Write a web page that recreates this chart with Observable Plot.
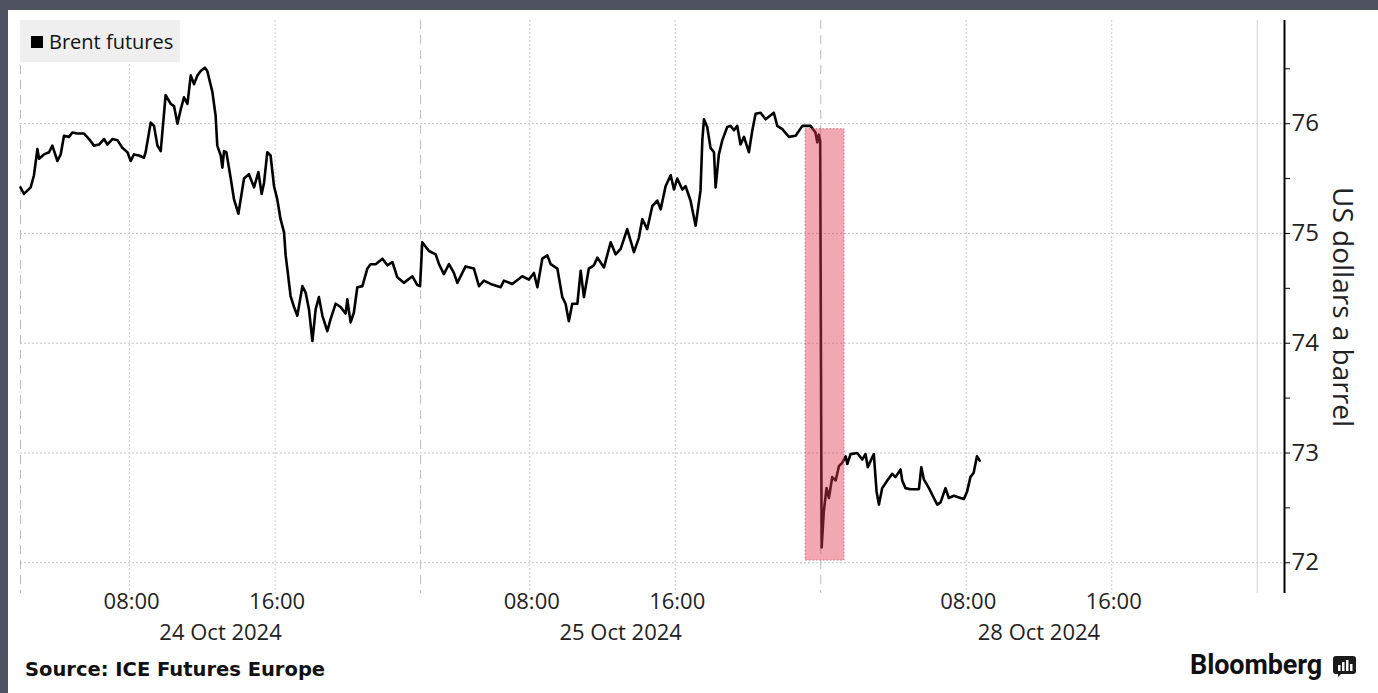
<!DOCTYPE html>
<html>
<head>
<meta charset="utf-8">
<script src="https://cdn.jsdelivr.net/npm/d3@7"></script>
<script src="https://cdn.jsdelivr.net/npm/@observablehq/plot@0.6"></script>
<style>
  html, body { margin: 0; padding: 0; }
  body { width: 1378px; height: 693px; background: #4f525f; position: relative; overflow: hidden; font-family: "Open Sans", sans-serif; }
  #card { position: absolute; left: 8px; top: 10px; right: 0; bottom: 0; background: #ffffff; }
  #chart { position: absolute; left: 0; top: 0; }
  #legend { position: absolute; left: 20px; top: 20px; width: 160px; height: 42px; background: #efefef; }
  #legend .sw { position: absolute; left: 11px; top: 16px; width: 12px; height: 12px; background: #000; }
  #legend .lb { position: absolute; left: 29px; top: 12px; font-size: 20px; line-height: 20px; color: #111; white-space: nowrap; }
  #source { position: absolute; left: 25px; top: 660px; font-family: "DejaVu Sans", sans-serif; font-weight: bold; font-size: 19.5px; line-height: 19px; color: #111; white-space: nowrap; }
  #brand { position: absolute; left: 1190px; top: 652px; font-family: Roboto, "Liberation Sans", sans-serif; font-weight: bold; font-size: 27px; line-height: 27px; color: #111; white-space: nowrap; letter-spacing: -0.1px; }
  #icon { position: absolute; left: 1333px; top: 656px; }
</style>
</head>
<body>
<div id="card"></div>
<div id="chart"></div>
<div id="legend"><div class="sw"></div><div class="lb">Brent futures</div></div>
<div id="source">Source: ICE Futures Europe</div>
<div id="brand">Bloomberg</div>
<svg id="icon" width="23" height="22" viewBox="0 0 23 22">
  <path d="M3 0 H20 Q23 0 23 3 V15 Q23 18 20 18 H8 L5 21 V18 H3 Q0 18 0 15 V3 Q0 0 3 0 Z" fill="#1a1a1a"/>
  <rect x="5" y="9" width="2.5" height="6" fill="#fff"/>
  <rect x="9" y="6" width="2.5" height="9" fill="#fff"/>
  <rect x="13" y="4" width="2.5" height="11" fill="#fff"/>
  <rect x="17" y="8" width="2.5" height="7" fill="#fff"/>
</svg>
<script>
// Trading-session hours since 24 Oct 2024 02:00 (non-trading time removed, as in the original axis)
const sessionHours = [
  0, 0.19, 0.56, 0.74, 0.93, 1.02, 1.29, 1.57, 1.75, 2.03, 2.21, 2.39, 2.67, 2.85, 3.13, 3.49, 3.77, 4.04, 4.32, 4.59,
  4.78, 5.05, 5.33, 5.60, 5.88, 6.06, 6.24, 6.51, 6.79, 6.88, 7.16, 7.34, 7.53, 7.71, 7.80, 7.98, 8.26, 8.44, 8.63, 8.81,
  8.99, 9.18, 9.36, 9.54, 9.73, 9.91, 10.14, 10.27, 10.55, 10.73, 10.82, 11.01, 11.10, 11.19, 11.32, 11.56, 11.74, 11.98, 12.29, 12.56,
  12.84, 13.08, 13.26, 13.39, 13.57, 13.75, 13.94, 14.12, 14.30, 14.49, 14.58, 14.67, 14.85, 15.04, 15.22, 15.50, 15.68, 15.86, 16.05, 16.23,
  16.41, 16.60, 16.87, 17.05, 17.33, 17.60, 17.88, 17.97, 18.15, 18.33, 18.52, 18.80, 19.07, 19.25, 19.53, 19.90, 20.17, 20.45, 20.72, 21.08,
  21.55, 21.82, 21.97,
  22.09, 22.46, 22.83, 23.01, 23.28, 23.56, 23.83, 24.02, 24.47, 24.93, 25.21, 25.48, 25.85, 26.40, 26.58, 27.04, 27.59, 27.96, 28.23, 28.42,
  28.69, 28.97, 29.15, 29.52, 29.79, 29.97, 30.15, 30.34, 30.62, 30.80, 30.98, 31.25, 31.53, 31.72, 32.08, 32.45, 32.72, 33.00, 33.36, 33.73,
  34.00, 34.19, 34.46, 34.74, 35.01, 35.20, 35.47, 35.75, 35.93, 36.11, 36.39, 36.57, 36.84, 37.12, 37.39, 37.49, 37.58, 37.76, 37.94, 38.13,
  38.22, 38.40, 38.59, 38.86, 39.04, 39.23, 39.41, 39.59, 39.78, 40.05, 40.24, 40.42, 40.69, 40.97, 41.42, 41.61, 41.89, 42.25, 42.62, 42.99,
  43.44, 43.71, 43.81, 43.90, 43.97,
  44.05, 44.17, 44.32, 44.45, 44.63, 44.82, 45.00, 45.18, 45.37, 45.46, 45.64, 46.01, 46.28, 46.46, 46.59, 46.83, 46.92, 47.07, 47.20, 47.38,
  47.66, 47.93, 48.11, 48.39, 48.48, 48.66, 48.94, 49.40, 49.53, 49.67, 49.95, 50.22, 50.41, 50.59, 50.86, 51.04, 51.32, 51.69, 51.87, 52.05,
  52.23, 52.41, 52.59, 52.74
];
const prices = [
  75.42, 75.36, 75.42, 75.53, 75.77, 75.68, 75.72, 75.74, 75.80, 75.66, 75.72, 75.89, 75.88, 75.92, 75.91, 75.91, 75.86, 75.80, 75.81, 75.86,
  75.81, 75.86, 75.85, 75.78, 75.74, 75.66, 75.72, 75.71, 75.69, 75.74, 76.01, 75.98, 75.80, 75.75, 75.92, 76.26, 76.18, 76.16, 76.00, 76.13,
  76.24, 76.18, 76.44, 76.36, 76.44, 76.48, 76.51, 76.48, 76.29, 76.07, 75.80, 75.71, 75.60, 75.75, 75.74, 75.50, 75.31, 75.18, 75.50, 75.54,
  75.42, 75.56, 75.36, 75.46, 75.74, 75.71, 75.43, 75.31, 75.13, 75.01, 74.80, 74.68, 74.43, 74.33, 74.25, 74.52, 74.46, 74.31, 74.02, 74.31,
  74.42, 74.25, 74.11, 74.22, 74.36, 74.33, 74.27, 74.40, 74.19, 74.28, 74.51, 74.52, 74.68, 74.72, 74.72, 74.77, 74.71, 74.74, 74.60, 74.55,
  74.61, 74.53, 74.52,
  74.92, 74.84, 74.81, 74.72, 74.63, 74.72, 74.64, 74.55, 74.70, 74.68, 74.52, 74.57, 74.54, 74.51, 74.57, 74.54, 74.61, 74.58, 74.64, 74.51,
  74.77, 74.80, 74.72, 74.68, 74.42, 74.36, 74.20, 74.36, 74.36, 74.66, 74.42, 74.68, 74.71, 74.78, 74.69, 74.92, 74.81, 74.86, 75.04, 74.83,
  74.96, 75.13, 75.04, 75.25, 75.30, 75.22, 75.43, 75.53, 75.40, 75.50, 75.40, 75.43, 75.30, 75.07, 75.39, 75.85, 76.04, 75.97, 75.78, 75.74,
  75.42, 75.72, 75.85, 75.97, 75.98, 75.94, 75.98, 75.81, 75.88, 75.74, 75.94, 76.09, 76.10, 76.04, 76.10, 75.98, 75.95, 75.88, 75.89, 75.98,
  75.98, 75.92, 75.83, 75.90, 75.84,
  72.14, 72.47, 72.68, 72.59, 72.78, 72.75, 72.88, 72.91, 72.97, 72.90, 72.99, 73.00, 72.94, 72.99, 72.87, 72.96, 72.99, 72.65, 72.53, 72.68,
  72.75, 72.81, 72.78, 72.85, 72.75, 72.68, 72.67, 72.67, 72.87, 72.76, 72.68, 72.59, 72.53, 72.55, 72.68, 72.59, 72.61, 72.59, 72.58, 72.65,
  72.78, 72.82, 72.97, 72.93
];

const yTicks = [72, 73, 74, 75, 76];
const yMinorTicks = [72.5, 73.5, 74.5, 75.5, 76.5];
const timeTicks = [6, 14, 28, 36, 52, 60];
const timeLabels = ["08:00", "16:00", "08:00", "16:00", "08:00", "16:00"];
const dayBreaks = [0, 22, 44];
const dayEnd = [68];
const dayCenters = [11, 33, 56];
const dayLabels = ["24 Oct 2024", "25 Oct 2024", "28 Oct 2024"];
const xDomain = [0, 69.5];
const yDomain = [71.72, 76.94];
const highlight = [{start: 43.17, end: 45.31, low: 72.02, high: 75.95}];
const yLabel = ["US dollars a barrel"];

const data = sessionHours.map((h, i) => ({h, p: prices[i]}));

const chart = Plot.plot({
  width: 1378,
  height: 650,
  marginLeft: 20,
  marginRight: 94,
  marginTop: 20,
  marginBottom: 57,
  style: {fontFamily: "'Open Sans', sans-serif", background: "transparent", overflow: "visible", color: "#222"},
  x: {domain: xDomain, axis: null},
  y: {domain: yDomain},
  marks: [
    Plot.ruleY(yTicks, {stroke: "#c4c4c4", strokeDasharray: "2,2", strokeWidth: 1}),
    Plot.ruleX(dayBreaks, {stroke: "#bcbcbc", strokeDasharray: "9,6", strokeWidth: 1}),
    Plot.ruleX(timeTicks, {stroke: "#cdcdcd", strokeDasharray: "2,2", strokeWidth: 1}),
    Plot.ruleX(dayEnd, {stroke: "#d2d2d2", strokeWidth: 1}),
    Plot.line(data, {x: "h", y: "p", stroke: "#000", strokeWidth: 2.6, strokeLinejoin: "round", curve: "linear"}),
    Plot.rect(highlight, {x1: "start", x2: "end", y1: "low", y2: "high", fill: "#e2384f", fillOpacity: 0.44, stroke: "#c9485a", strokeOpacity: 0.7, strokeDasharray: "1.5,2", strokeWidth: 1}),
    Plot.ruleX([xDomain[1]], {stroke: "#000", strokeWidth: 2}),
    Plot.axisY({anchor: "right", ticks: yMinorTicks, tickSize: 5, tickFormat: () => "", label: null, stroke: "#000"}),
    Plot.axisY({anchor: "right", ticks: yTicks, tickSize: 5, tickPadding: 2, tickFormat: d => String(d), fontSize: 24, label: null, stroke: "#000", fill: "#222"}),
    Plot.text(timeTicks, {x: d => d, text: (d, i) => timeLabels[i], frameAnchor: "bottom", dy: 15.5, dx: 2, fontSize: 22, fill: "#222"}),
    Plot.text(dayCenters, {x: d => d, text: (d, i) => dayLabels[i], frameAnchor: "bottom", dy: 46.5, fontSize: 22, fill: "#222"}),
    Plot.text(yLabel, {text: d => d, frameAnchor: "right", textAnchor: "middle", dx: 57, rotate: 90, fontSize: 28, fill: "#222"})
  ]
});
document.getElementById("chart").appendChild(chart);
</script>
</body>
</html>
